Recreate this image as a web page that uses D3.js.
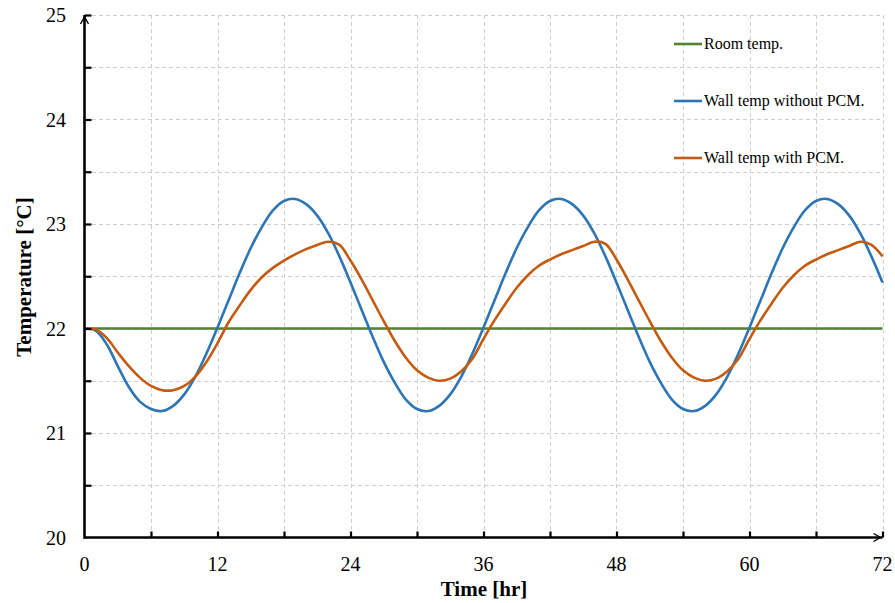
<!DOCTYPE html>
<html>
<head>
<meta charset="utf-8">
<script src="https://cdn.jsdelivr.net/npm/d3@7"></script>
<style>
  html, body { margin: 0; padding: 0; background: #fff; }
  svg { display: block; }
  text { font-family: "Liberation Serif", "Times New Roman", serif; fill: #000; }
</style>
</head>
<body>
<svg id="chart" width="895" height="603"></svg>
<script>
// Hourly time stamps, 0..72 hr
const hours = d3.range(0, 73);

// Room temperature (constant set point)
const roomTimes = [0, 72];
const roomTemp = [22, 22];

// Wall surface temperature without PCM [°C], one value per hour
const wallNoPCM = [
  22.00, 21.98, 21.85, 21.64, 21.44, 21.30, 21.23, 21.21, 21.26, 21.37, 21.54, 21.76, 22.01,
  22.27, 22.53, 22.77, 22.97, 23.13, 23.22, 23.24, 23.19, 23.08, 22.91, 22.69, 22.44,
  22.18, 21.92, 21.68, 21.48, 21.32, 21.23, 21.21, 21.26, 21.37, 21.54, 21.76, 22.01,
  22.27, 22.53, 22.77, 22.97, 23.13, 23.22, 23.24, 23.19, 23.08, 22.91, 22.69, 22.44,
  22.18, 21.92, 21.68, 21.48, 21.32, 21.23, 21.21, 21.26, 21.37, 21.54, 21.76, 22.01,
  22.27, 22.53, 22.77, 22.97, 23.13, 23.22, 23.24, 23.19, 23.08, 22.91, 22.69, 22.44
];

// Wall surface temperature with PCM [°C], one value per hour
const wallPCM = [
  22.00, 21.99, 21.91, 21.77, 21.64, 21.53, 21.45, 21.41, 21.41, 21.45, 21.54, 21.68, 21.86,
  22.06, 22.22, 22.37, 22.49, 22.58, 22.65, 22.71, 22.76, 22.80, 22.83, 22.80, 22.65,
  22.47, 22.27, 22.07, 21.88, 21.72, 21.60, 21.53, 21.50, 21.52, 21.59, 21.71, 21.90,
  22.08, 22.24, 22.39, 22.51, 22.60, 22.66, 22.71, 22.75, 22.79, 22.83, 22.81, 22.66,
  22.47, 22.27, 22.07, 21.88, 21.72, 21.60, 21.53, 21.50, 21.52, 21.59, 21.71, 21.90,
  22.08, 22.24, 22.39, 22.51, 22.60, 22.66, 22.71, 22.75, 22.79, 22.83, 22.80, 22.69
];

// Axis ticks
const xTickLabels = [0, 12, 24, 36, 48, 60, 72];
const xMinorTicks = d3.range(6, 73, 6);
const yTickLabels = [20, 21, 22, 23, 24, 25];
const yMinorTicks = d3.range(20.5, 25.01, 0.5);

const legendItems = [
  { name: "Room temp.", color: "#548235" },
  { name: "Wall temp without PCM.", color: "#2E75B6" },
  { name: "Wall temp with PCM.", color: "#C55A11" }
];

const svg = d3.select("#chart");
const x = d3.scaleLinear().domain([0, 72]).range([84.5, 882.5]);
const y = d3.scaleLinear().domain([20, 25]).range([537.5, 15]);

// Dashed grid
const grid = svg.append("g").attr("stroke", "#cfcfcf").attr("stroke-width", 1)
  .attr("stroke-dasharray", "4,3").attr("shape-rendering", "crispEdges");
grid.selectAll("line.v").data(xMinorTicks).join("line")
  .attr("x1", d => Math.round(x(d)) + 0.5).attr("x2", d => Math.round(x(d)) + 0.5)
  .attr("y1", y(25)).attr("y2", y(20));
grid.selectAll("line.h").data(yMinorTicks).join("line")
  .attr("x1", x(0)).attr("x2", x(72))
  .attr("y1", d => Math.round(y(d)) + 0.5).attr("y2", d => Math.round(y(d)) + 0.5);

// Series
const series = [
  { t: roomTimes, v: roomTemp, color: legendItems[0].color },
  { t: hours, v: wallNoPCM, color: legendItems[1].color },
  { t: hours, v: wallPCM, color: legendItems[2].color }
];
const line = d3.line().x(d => x(d[0])).y(d => y(d[1])).curve(d3.curveCatmullRom.alpha(0.5));
svg.append("g").selectAll("path").data(series).join("path")
  .attr("fill", "none")
  .attr("stroke", d => d.color)
  .attr("stroke-width", 2.6)
  .attr("stroke-linejoin", "round")
  .attr("d", d => line(d.t.map((t, i) => [t, d.v[i]])));

// Axes with inward ticks
const xAxis = d3.axisBottom(x).tickValues(xMinorTicks).tickSize(-6).tickFormat("");
const yAxis = d3.axisLeft(y).tickValues(yMinorTicks).tickSize(-7).tickFormat("");
const gx = svg.append("g").attr("transform", `translate(0,${y(20)})`).call(xAxis);
const gy = svg.append("g").attr("transform", `translate(${x(0)},0)`).call(yAxis);
[gx, gy].forEach(g => {
  g.select(".domain").remove();
  g.selectAll(".tick line").attr("stroke", "#000").attr("stroke-width", 2.2);
});
const axisLines = svg.append("g").attr("stroke", "#000").attr("fill", "none").attr("stroke-width", 2.6);
axisLines.append("line").attr("x1", x(0)).attr("x2", x(72)).attr("y1", y(20)).attr("y2", y(20));
axisLines.append("line").attr("x1", x(0)).attr("x2", x(0)).attr("y1", y(20) + 1.3).attr("y2", y(25));
// Arrowheads
axisLines.append("path").attr("stroke-width", 1.4)
  .attr("d", `M${x(72) - 9},${y(20) - 4} L${x(72) - 2},${y(20)} L${x(72) - 9},${y(20) + 4}`);
axisLines.append("path").attr("stroke-width", 1.4)
  .attr("d", `M${x(0) - 4},${y(25) + 9} L${x(0)},${y(25) + 2} L${x(0) + 4},${y(25) + 9}`);

// Tick labels
svg.append("g").selectAll("text").data(xTickLabels).join("text")
  .attr("x", d => x(d)).attr("y", 571)
  .attr("text-anchor", "middle").attr("font-size", 20)
  .text(d => d);
svg.append("g").selectAll("text").data(yTickLabels).join("text")
  .attr("x", 66).attr("y", d => y(d) + 7)
  .attr("text-anchor", "end").attr("font-size", 20)
  .text(d => d);

// Axis titles
svg.append("text").attr("x", 484).attr("y", 596)
  .attr("text-anchor", "middle").attr("font-size", 21).attr("font-weight", "bold")
  .text("Time [hr]");
svg.append("text").attr("transform", "translate(31,277) rotate(-90)")
  .attr("text-anchor", "middle").attr("font-size", 21).attr("font-weight", "bold")
  .text("Temperature [°C]");

// Legend
const legend = svg.append("g").selectAll("g").data(legendItems).join("g")
  .attr("transform", (d, i) => `translate(674,${44 + i * 57})`);
legend.append("line").attr("x1", 0).attr("x2", 28).attr("y1", 0).attr("y2", 0)
  .attr("stroke", d => d.color).attr("stroke-width", 2.6);
legend.append("text").attr("x", 30).attr("y", 5).attr("font-size", 16)
  .text(d => d.name);
</script>
</body>
</html>
